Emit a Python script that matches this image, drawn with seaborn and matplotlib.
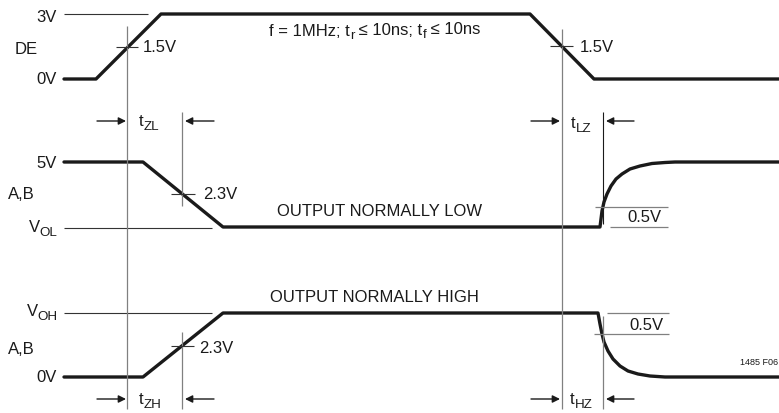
import numpy as np
import pandas as pd
import matplotlib
matplotlib.use('Agg')
import matplotlib.pyplot as plt
import seaborn as sns

# timing points (horizontal) and signal levels (vertical, drawn top-down)
de_t = [64, 96, 161, 530, 594, 779]
de_v = [80, 80, 15, 15, 80, 80]

low_t = [64, 143, 223, 600, 601, 602, 604, 607, 611, 616, 622, 630, 640, 652, 665, 675, 779]
low_v = [163, 163, 228, 228, 220, 212, 203, 195, 187, 180, 175, 170, 167, 164.5, 163.5, 163, 163]

high_t = [64, 143, 223, 598, 600, 602, 604, 608, 613, 620, 628, 638, 650, 665, 779]
high_v = [378, 378, 314, 314, 325, 335, 343, 352, 360, 367, 372, 375, 377, 378, 378]

# reference levels
lvl_3v, lvl_0v_de = 15, 80
lvl_5v, lvl_vol = 163, 229
lvl_voh, lvl_0v = 314, 378

# measurement instants
t_de_rise, t_de_fall = 127, 562
t_zl, t_lz = 182, 603

sns.set_theme(style='white')
plt.rcParams['font.family'] = ['Liberation Sans', 'DejaVu Sans']

fig = plt.figure(figsize=(7.79, 4.14), dpi=100)
ax = fig.add_axes([0, 0, 1, 1])
ax.set_xlim(0, 779)
ax.set_ylim(414, 0)
ax.axis('off')

thick = dict(color='#1a1a1a', linewidth=2.4, sort=False, estimator=None, ax=ax, legend=False)
sns.lineplot(x=de_t, y=de_v, **thick)
sns.lineplot(x=low_t, y=low_v, **thick)
sns.lineplot(x=high_t, y=high_v, **thick)

thin = dict(color='#333333', linewidth=0.8)
grey = dict(color='#808080', linewidth=0.9)

# reference level lines
ax.hlines(lvl_3v, 64, 148, **thin)
ax.hlines(lvl_vol, 64, 212, **thin)
ax.hlines(lvl_voh, 64, 212, **thin)

# long vertical markers
ax.vlines(t_de_rise, 27, 410, **grey)
ax.vlines(t_de_fall, 30, 410, **grey)
ax.vlines(t_zl, 113, 207, **grey)
ax.vlines(t_zl, 333, 410, **grey)
ax.vlines(t_lz, 113, 225, color='#1a1a1a', linewidth=0.8)
ax.vlines(t_lz, 317, 410, **grey)

# crossing ticks
ax.hlines(48, 116, 138, **thin)
ax.hlines(47, 550, 573, **thin)
ax.hlines(195, 171, 195, **thin)
ax.hlines(347, 171, 194, **thin)

# 0.5V brackets
ax.hlines(208, 595, 668, **grey)
ax.hlines(228, 610, 668, **grey)
ax.hlines(314, 607, 669, **grey)
ax.hlines(335, 594, 669, **grey)

# arrows
arr = dict(arrowstyle='-|>', color='#1a1a1a', lw=1.0, mutation_scale=11, shrinkA=0, shrinkB=0)
for y in (122, 400):
    ax.annotate('', xy=(126, y), xytext=(97, y), arrowprops=arr)
    ax.annotate('', xy=(185, y), xytext=(214, y), arrowprops=arr)
    ax.annotate('', xy=(560, y), xytext=(531, y), arrowprops=arr)
    ax.annotate('', xy=(606, y), xytext=(634, y), arrowprops=arr)

fs = 12
tc = '#1a1a1a'
def lab(x, y, s, ha='left', size=fs):
    return ax.text(x, y, s, ha=ha, va='center', fontsize=size, color=tc)

def sublab(x, y, base, sub, ha='left'):
    # base letter followed by a lowered, slightly smaller subscript
    dx = -1 if base == 'V' else 0.3
    t = ax.text(x, y, base, ha='left', va='center', fontsize=fs, color=tc)
    s = ax.annotate(sub, xy=(1, 0.05), xycoords=t, xytext=(dx, -3), textcoords='offset points',
                    ha='left', va='bottom', fontsize=fs * 0.8, color=tc)
    if ha == 'right':
        fig.canvas.draw()
        r = fig.canvas.get_renderer()
        w = (t.get_window_extent(r).width + s.get_window_extent(r).width + dx * 1.39) * 779 / fig.bbox.width
        t.set_x(x - w)
    return t

lab(57, 18, '3V', 'right')
lab(15, 50, 'DE')
lab(57, 80, '0V', 'right')
lab(143, 47, '1.5V')
lab(580, 47, '1.5V')

# title line built from pieces so subscripts match the rest
p1 = ax.text(269, 31, 'f = 1MHz; t', ha='left', va='center', fontsize=fs, color=tc)
s1 = ax.annotate('r', xy=(1, 0.05), xycoords=p1, xytext=(0, -3), textcoords='offset points',
                 va='bottom', fontsize=fs * 0.8, color=tc)
p2 = ax.annotate(' ≤ 10ns; t', xy=(1, 0), xycoords=s1, xytext=(0, 3), textcoords='offset points',
                 va='bottom', fontsize=fs, color=tc)
s2 = ax.annotate('f', xy=(1, 0.05), xycoords=p2, xytext=(0, -3), textcoords='offset points',
                 va='bottom', fontsize=fs * 0.8, color=tc)
ax.annotate(' ≤ 10ns', xy=(1, 0), xycoords=s2, xytext=(0, 3), textcoords='offset points',
            va='bottom', fontsize=fs, color=tc)

sublab(139, 122, 't', 'ZL')
sublab(571, 124, 't', 'LZ')

lab(57, 164, '5V', 'right')
lab(8, 195, 'A,B')
sublab(57, 228, 'V', 'OL', 'right')
lab(203, 195, '2.3V')
lab(380, 212, 'OUTPUT NORMALLY LOW', 'center')
lab(644, 218, '0.5V', 'center')

sublab(57, 312, 'V', 'OH', 'right')
lab(8, 350, 'A,B')
lab(57, 378, '0V', 'right')
lab(199, 349, '2.3V')
lab(374, 298, 'OUTPUT NORMALLY HIGH', 'center')
lab(646, 326, '0.5V', 'center')
sublab(139, 400, 't', 'ZH')
sublab(570, 400, 't', 'HZ')
lab(778, 363, '1485 F06', 'right', size=6.5)

fig.savefig('out.png', dpi=100, facecolor='white')
